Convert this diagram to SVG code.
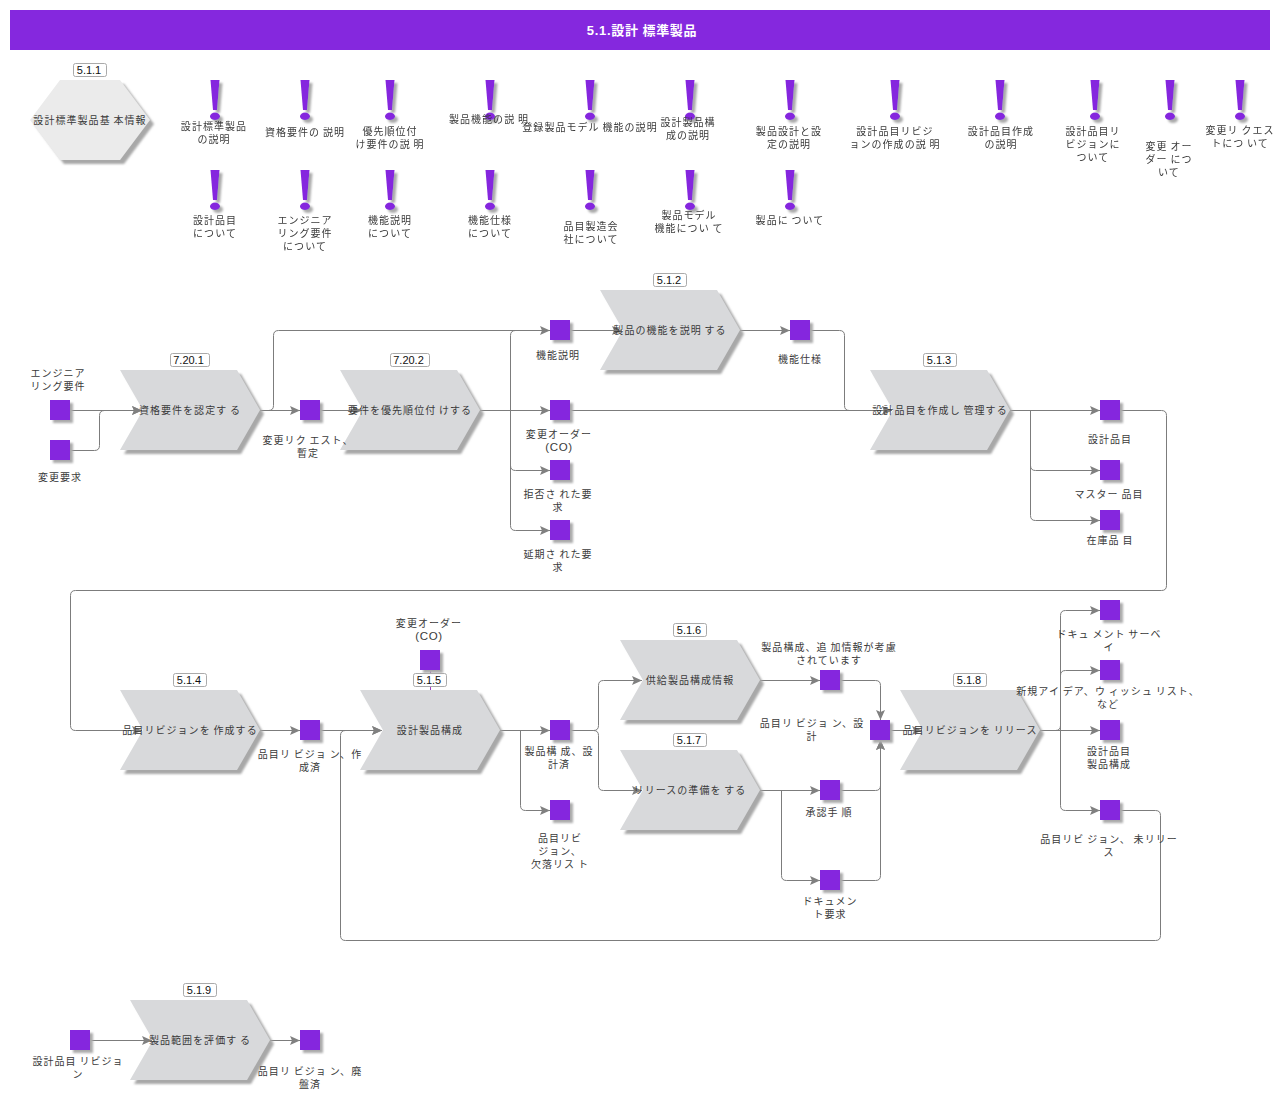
<svg xmlns="http://www.w3.org/2000/svg" width="1286" height="1101" viewBox="0 0 1286 1101">
<style>
text{font-family:"Noto Sans CJK JP","Liberation Sans",sans-serif;font-size:10px;letter-spacing:1.05px;word-spacing:-.5px;fill:#3a3a3a;text-anchor:middle}
.title{font-family:"Liberation Sans","Noto Sans CJK JP",sans-serif;font-size:13px;font-weight:bold;fill:#fff;letter-spacing:.7px}
.bt{font-family:"Liberation Sans",sans-serif;font-size:11px;fill:#111;letter-spacing:0}
.lat{font-family:"Liberation Sans",sans-serif;font-size:11.500px;letter-spacing:.6px}
.b{fill:#fff;stroke:#aaa;stroke-width:1}
.c{fill:none;stroke:#7c7c7c;stroke-width:1}
.a{marker-end:url(#ah)}
.ch{fill:#d8d9db;filter:url(#sh)}
.hx{fill:#ebebeb;filter:url(#sh)}
.sq{fill:#8528de;filter:url(#sh2)}
.ex{fill:#8528de;filter:url(#sh2)}
</style>
<defs>
<filter id="sh" x="-10%" y="-10%" width="125%" height="125%"><feDropShadow dx="4" dy="4" stdDeviation="1.200" flood-color="#a8a8a8"/></filter>
<filter id="sh2" x="-30%" y="-30%" width="170%" height="170%"><feDropShadow dx="3" dy="3" stdDeviation="1" flood-color="#aaa"/></filter>
<marker id="ah" markerUnits="userSpaceOnUse" markerWidth="11" markerHeight="11" refX="10" refY="5" orient="auto"><path d="M0 .5L10 5L0 9.500L2 5Z" fill="#808080"/></marker>
<path id="chev" d="M0 0H117L140 40L117 80H0L23 40Z"/>
<g id="exc"><path d="M-4.500 0H4.500L2 30H-2Z"/><ellipse cx="0" cy="36.300" rx="5" ry="3.700"/></g>
</defs>
<rect x="10" y="10" width="1260" height="40" fill="#8528de"/>
<text class="title" x="642" y="34.500">5.1.設計 標準製品</text>

<g id="connectors">
<path class="c a" d="M70 410.500H142"/>
<path class="c a" d="M70 450.500H94.500Q99.500 450.500 99.500 445.500V415.500Q99.500 410.500 104.500 410.500H142"/>
<path class="c a" d="M260 410.500H300"/>
<path class="c a" d="M260 410.500H268.500Q273.500 410.500 273.500 405.500V335.500Q273.500 330.500 278.500 330.500H550"/>
<path class="c a" d="M320 410.500H362"/>
<path class="c a" d="M480 410.500H550"/>
<path class="c" d="M510.500 410.500V335.500Q510.500 330.500 515.500 330.500H550"/>
<path class="c a" d="M510.500 410.500V465.500Q510.500 470.500 515.500 470.500H550"/>
<path class="c a" d="M510.500 410.500V525.500Q510.500 530.500 515.500 530.500H550"/>
<path class="c a" d="M570 330.500H622"/>
<path class="c a" d="M740 330.500H790"/>
<path class="c a" d="M810 330.500H839.500Q844.500 330.500 844.500 335.500V405.500Q844.500 410.500 849.500 410.500H892"/>
<path class="c a" d="M570 410.500H892"/>
<path class="c a" d="M1010 410.500H1100"/>
<path class="c a" d="M1030.500 410.500V465.500Q1030.500 470.500 1035.500 470.500H1100"/>
<path class="c a" d="M1030.500 410.500V515.500Q1030.500 520.500 1035.500 520.500H1100"/>
<path class="c a" d="M1120 410.500H1161.500Q1166.500 410.500 1166.500 415.500V585.500Q1166.500 590.500 1161.500 590.500H75.500Q70.500 590.500 70.500 595.500V725.500Q70.500 730.500 75.500 730.500H142"/>
<path class="c a" d="M260 730.500H300"/>
<path class="c a" d="M320 730.500H382"/>
<path class="c a" d="M500 730.500H550"/>
<path class="c a" d="M570 730.500H593.500Q598.500 730.500 598.500 725.500V685.500Q598.500 680.500 603.500 680.500H642"/>
<path class="c a" d="M570 730.500H593.500Q598.500 730.500 598.500 735.500V785.500Q598.500 790.500 603.500 790.500H642"/>
<path class="c a" d="M520.500 730.500V805.500Q520.500 810.500 525.500 810.500H550"/>
<path class="c a" d="M760 680.500H820"/>
<path class="c a" d="M840 680.500H875.500Q880.500 680.500 880.500 685.500V720"/>
<path class="c a" d="M760 790.500H820"/>
<path class="c a" d="M840 790.500H875.500Q880.500 790.500 880.500 785.500V740"/>
<path class="c a" d="M781.500 790.500V875.500Q781.500 880.500 786.500 880.500H820"/>
<path class="c a" d="M840 880.500H875.500Q880.500 880.500 880.500 875.500V740"/>
<path class="c a" d="M890 730.500H922"/>
<path class="c a" d="M1040 730.500H1055.500Q1060.500 730.500 1060.500 725.500V615.500Q1060.500 610.500 1065.500 610.500H1100"/>
<path class="c a" d="M1060.500 730.500V675.500Q1060.500 670.500 1065.500 670.500H1100"/>
<path class="c a" d="M1040 730.500H1100"/>
<path class="c a" d="M1060.500 730.500V805.500Q1060.500 810.500 1065.500 810.500H1100"/>
<path class="c a" d="M1120 810.500H1155.500Q1160.500 810.500 1160.500 815.500V935.500Q1160.500 940.500 1155.500 940.500H345.500Q340.500 940.500 340.500 935.500V735.500Q340.500 730.500 345.500 730.500H382"/>
<path class="c a" d="M90 1040.500H152"/>
<path class="c a" d="M270 1040.500H300"/>
<path d="M430.500 670V691" fill="none" stroke="#a040c0"/>
</g>

<g id="n511"><path class="hx" d="M30 120L60 80H120L150 120L120 160H60Z"/><text x="90" y="123.500">設計標準製品基 本情報</text><rect class="b" x="73.500" y="63.500" width="33" height="13" rx="2"/><text class="bt" x="89" y="73.500">5.1.1</text></g>

<g id="ideas" class="ex">
<use href="#exc" x="215" y="80"/><use href="#exc" x="305" y="80"/><use href="#exc" x="390" y="80"/><use href="#exc" x="490" y="80"/><use href="#exc" x="590" y="80"/><use href="#exc" x="690" y="80"/><use href="#exc" x="790" y="80"/><use href="#exc" x="895" y="80"/><use href="#exc" x="1000" y="80"/><use href="#exc" x="1095" y="80"/><use href="#exc" x="1170" y="80"/><use href="#exc" x="1240" y="80"/>
<use href="#exc" x="215" y="170"/><use href="#exc" x="305" y="170"/><use href="#exc" x="390" y="170"/><use href="#exc" x="490" y="170"/><use href="#exc" x="590" y="170"/><use href="#exc" x="690" y="170"/><use href="#exc" x="790" y="170"/>
</g>
<g id="idea-labels">
<text x="214" y="130">設計標準製品</text><text x="214" y="143">の説明</text>
<text x="305" y="136">資格要件の 説明</text>
<text x="390" y="135">優先順位付</text><text x="390" y="148">け要件の説 明</text>
<text x="489" y="123">製品機能の説 明</text>
<text x="590" y="131">登録製品モデル 機能の説明</text>
<text x="688" y="126">設計製品構</text><text x="688" y="139">成の説明</text>
<text x="789" y="135">製品設計と設</text><text x="789" y="148">定の説明</text>
<text x="895" y="135">設計品目リビジ</text><text x="895" y="148">ョンの作成の説 明</text>
<text x="1001" y="135">設計品目作成</text><text x="1001" y="148">の説明</text>
<text x="1093" y="135">設計品目リ</text><text x="1093" y="148">ビジョンに</text><text x="1093" y="161">ついて</text>
<text x="1169" y="150">変更 オー</text><text x="1169" y="163">ダー につ</text><text x="1169" y="176">いて</text>
<text x="1240" y="134">変更リ クエス</text><text x="1240" y="147">トにつ いて</text>
<text x="215" y="224">設計品目</text><text x="215" y="237">について</text>
<text x="305" y="224">エンジニア</text><text x="305" y="237">リング要件</text><text x="305" y="250">について</text>
<text x="390" y="224">機能説明</text><text x="390" y="237">について</text>
<text x="490" y="224">機能仕様</text><text x="490" y="237">について</text>
<text x="591" y="230">品目製造会</text><text x="591" y="243">社について</text>
<text x="689" y="219">製品モデル</text><text x="689" y="232">機能につい て</text>
<text x="790" y="224">製品に ついて</text>
</g>

<g id="n7201"><use href="#chev" class="ch" x="120" y="370"/><text x="190" y="413.500">資格要件を認定す る</text><rect class="b" x="170.500" y="353.500" width="39" height="13" rx="2"/><text class="bt" x="188.500" y="363.500">7.20.1</text></g>
<g id="n7202"><use href="#chev" class="ch" x="340" y="370"/><text x="410" y="413.500">要件を優先順位付 けする</text><rect class="b" x="390.500" y="353.500" width="39" height="13" rx="2"/><text class="bt" x="408.500" y="363.500">7.20.2</text></g>
<g id="n512"><use href="#chev" class="ch" x="600" y="290"/><text x="670" y="333.500">製品の機能を説明 する</text><rect class="b" x="653.500" y="273.500" width="33" height="13" rx="2"/><text class="bt" x="669" y="283.500">5.1.2</text></g>
<g id="n513"><use href="#chev" class="ch" x="870" y="370"/><text x="940" y="413.500">設計品目を作成し 管理する</text><rect class="b" x="923.500" y="353.500" width="33" height="13" rx="2"/><text class="bt" x="939" y="363.500">5.1.3</text></g>
<g id="n514"><use href="#chev" class="ch" x="120" y="690"/><text x="190" y="733.500">品目リビジョンを 作成する</text><rect class="b" x="173.500" y="673.500" width="33" height="13" rx="2"/><text class="bt" x="189" y="683.500">5.1.4</text></g>
<g id="n515"><use href="#chev" class="ch" x="360" y="690"/><text x="430" y="733.500">設計製品構成</text><rect class="b" x="413.500" y="673.500" width="33" height="13" rx="2"/><text class="bt" x="429" y="683.500">5.1.5</text></g>
<g id="n516"><use href="#chev" class="ch" x="620" y="640"/><text x="690" y="683.500">供給製品構成情報</text><rect class="b" x="673.500" y="623.500" width="33" height="13" rx="2"/><text class="bt" x="689" y="633.500">5.1.6</text></g>
<g id="n517"><use href="#chev" class="ch" x="620" y="750"/><text x="690" y="793.500">リリースの準備を する</text><rect class="b" x="673.500" y="733.500" width="33" height="13" rx="2"/><text class="bt" x="689" y="743.500">5.1.7</text></g>
<g id="n518"><use href="#chev" class="ch" x="900" y="690"/><text x="970" y="733.500">品目リビジョンを リリース</text><rect class="b" x="953.500" y="673.500" width="33" height="13" rx="2"/><text class="bt" x="969" y="683.500">5.1.8</text></g>
<g id="n519"><use href="#chev" class="ch" x="130" y="1000"/><text x="200" y="1043.500">製品範囲を評価す る</text><rect class="b" x="183.500" y="983.500" width="33" height="13" rx="2"/><text class="bt" x="199" y="993.500">5.1.9</text></g>

<g id="d1"><rect class="sq" x="50" y="400" width="20" height="20"/><text x="58" y="377">エンジニア</text><text x="58" y="390">リング要件</text></g>
<g id="d2"><rect class="sq" x="50" y="440" width="20" height="20"/><text x="60" y="481">変更要求</text></g>
<g id="d3"><rect class="sq" x="300" y="400" width="20" height="20"/><text x="308" y="444">変更リク エスト、</text><text x="308" y="457">暫定</text></g>
<g id="d4"><rect class="sq" x="550" y="320" width="20" height="20"/><text x="558" y="359">機能説明</text></g>
<g id="d5"><rect class="sq" x="550" y="400" width="20" height="20"/><text x="559" y="438">変更オーダー</text><text class="lat" x="559" y="451">(CO)</text></g>
<g id="d6"><rect class="sq" x="550" y="460" width="20" height="20"/><text x="558" y="498">拒否さ れた要</text><text x="558" y="511">求</text></g>
<g id="d7"><rect class="sq" x="550" y="520" width="20" height="20"/><text x="558" y="558">延期さ れた要</text><text x="558" y="571">求</text></g>
<g id="d8"><rect class="sq" x="790" y="320" width="20" height="20"/><text x="800" y="363">機能仕様</text></g>
<g id="d9"><rect class="sq" x="1100" y="400" width="20" height="20"/><text x="1110" y="443">設計品目</text></g>
<g id="d10"><rect class="sq" x="1100" y="460" width="20" height="20"/><text x="1109" y="498">マスター 品目</text></g>
<g id="d11"><rect class="sq" x="1100" y="510" width="20" height="20"/><text x="1110" y="544">在庫品 目</text></g>
<g id="d12"><rect class="sq" x="300" y="720" width="20" height="20"/><text x="310" y="758">品目リ ビジョ ン、作</text><text x="310" y="771">成済</text></g>
<g id="d13"><rect class="sq" x="420" y="650" width="20" height="20"/><text x="429" y="627">変更オーダー</text><text class="lat" x="429" y="640">(CO)</text></g>
<g id="d14"><rect class="sq" x="550" y="720" width="20" height="20"/><text x="559" y="755">製品構 成、設</text><text x="559" y="768">計済</text></g>
<g id="d15"><rect class="sq" x="550" y="800" width="20" height="20"/><text x="560" y="842">品目リビ</text><text x="560" y="855">ジョン、</text><text x="560" y="868">欠落リス ト</text></g>
<g id="d16"><rect class="sq" x="820" y="670" width="20" height="20"/><text x="829" y="651">製品構成、追 加情報が考慮</text><text x="829" y="664">されています</text></g>
<g id="d17"><rect class="sq" x="870" y="720" width="20" height="20"/><text x="812" y="727">品目リ ビジョ ン、設</text><text x="812" y="740">計</text></g>
<g id="d18"><rect class="sq" x="820" y="780" width="20" height="20"/><text x="829" y="816">承認手 順</text></g>
<g id="d19"><rect class="sq" x="820" y="870" width="20" height="20"/><text x="830" y="905">ドキュメン</text><text x="830" y="918">ト要求</text></g>
<g id="d20"><rect class="sq" x="1100" y="600" width="20" height="20"/><text x="1109" y="638">ドキュ メント サーベ</text><text x="1109" y="651">イ</text></g>
<g id="d21"><rect class="sq" x="1100" y="660" width="20" height="20"/><text x="1108" y="695">新規アイ デア、ウ ィッシュ リスト、</text><text x="1108" y="708">など</text></g>
<g id="d22"><rect class="sq" x="1100" y="720" width="20" height="20"/><text x="1109" y="755">設計品目</text><text x="1109" y="768">製品構成</text></g>
<g id="d23"><rect class="sq" x="1100" y="800" width="20" height="20"/><text x="1109" y="843">品目リビ ジョン、 未リリー</text><text x="1109" y="856">ス</text></g>
<g id="d24"><rect class="sq" x="70" y="1030" width="20" height="20"/><text x="78" y="1065">設計品目 リビジョ</text><text x="78" y="1078">ン</text></g>
<g id="d25"><rect class="sq" x="300" y="1030" width="20" height="20"/><text x="310" y="1075">品目リ ビジョ ン、廃</text><text x="310" y="1088">盤済</text></g>
</svg>
